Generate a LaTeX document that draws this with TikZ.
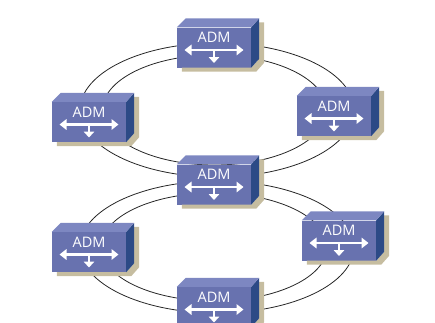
\documentclass[tikz,border=0pt]{standalone}
\usepackage{fontspec}
\newfontfamily\admfont{Open Sans}
\usetikzlibrary{arrows.meta}

\definecolor{admfront}{HTML}{6872AF}
\definecolor{admtop}{HTML}{7D87C1}
\definecolor{admside}{HTML}{2C4A86}
\definecolor{admshadow}{HTML}{C6BDA0}

\tikzset{
  admarrow/.style={white, line width=2.2pt,
    {Triangle[width=10.5pt,length=7pt]}-{Triangle[width=10.5pt,length=7pt]}},
  adm/.style={rectangle, fill=admfront, minimum width=74pt, minimum height=40pt,
    inner sep=0pt, text height=15pt, text depth=25pt, text=white,
    font=\admfont\fontsize{14.5}{14.5}\selectfont,
    path picture={
      \draw[admarrow] ([shift={(-29.5,-2.5)}]path picture bounding box.center)
        -- ([shift={(29.5,-2.5)}]path picture bounding box.center);
      \draw[admarrow, -{Triangle[width=10.5pt,length=6pt]}]
        ([yshift=-2.5pt]path picture bounding box.center)
        -- ([yshift=-15.5pt]path picture bounding box.center);
    }},
  ring/.style={draw=black!85, line width=0.8pt}
}

\begin{document}
\begin{tikzpicture}[x=1pt, y=1pt]
  \useasboundingbox (0,0) rectangle (435,-322);

  % リング
  \coordinate (upper) at (217,-110);
  \coordinate (lower) at (217,-247);
  \draw[ring] (upper) ellipse [x radius=137, y radius=67];
  \draw[ring] ([xshift=-2.5pt]upper) ellipse [x radius=112, y radius=55];
  \draw[ring] (lower) ellipse [x radius=137, y radius=66];
  \draw[ring] ([xshift=-3pt]lower) ellipse [x radius=113, y radius=54];

  % ADM
  \node[adm] (top)      at (214,-47.5) {ADM};
  \node[adm] (upleft)   at (89,-122)   {ADM};
  \node[adm] (upright)  at (334,-116)  {ADM};
  \node[adm] (mid)      at (214,-184.5) {ADM};
  \node[adm] (lowleft)  at (89,-252)   {ADM};
  \node[adm] (lowright) at (339,-240.5) {ADM};
  \node[adm] (bottom)   at (214,-307)  {ADM};

  % 影・側面・上面
  \foreach \n in {top, upleft, upright, mid, lowleft, lowright, bottom} {
    \fill[admshadow] ([xshift=5pt]\n.south west) -- ++(0,-4)
      -- ([shift={(5,-4)}]\n.south east) -- ++(8,9)
      -- ([shift={(13,5)}]\n.north east) -- ++(-5,0)
      -- ([shift={(8,9)}]\n.south east) -- (\n.south east) -- cycle;
    \fill[admside] (\n.north east) -- ++(8,9)
      -- ([shift={(8,9)}]\n.south east) -- (\n.south east) -- cycle;
    \fill[admtop] (\n.north west) -- ++(9,9)
      -- ([shift={(8,9)}]\n.north east) -- (\n.north east) -- cycle;
  }
\end{tikzpicture}
\end{document}
